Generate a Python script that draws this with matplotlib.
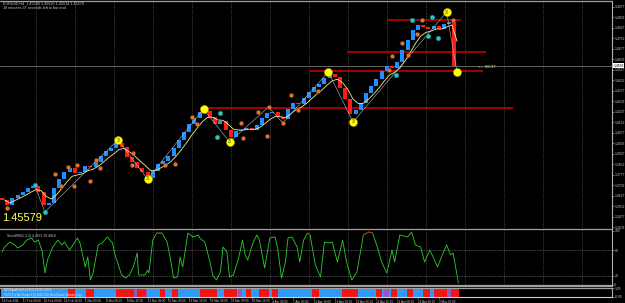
import matplotlib
matplotlib.use("Agg")
import matplotlib.pyplot as plt
import numpy as np
import pandas as pd

plt.rcParams['font.family'] = ['Liberation Sans', 'DejaVu Sans']

# ---------------- data ----------------
# EURUSD H4 closes, one value every 4 bars (bar 0 = 14 Feb 2011 16:00)
step = 4
close = [1.3596, 1.3560, 1.3610, 1.3631, 1.3653, 1.3681, 1.3696, 1.3653, 1.3560, 1.3574,
         1.3681, 1.3746, 1.3796, 1.3825, 1.3789, 1.3796, 1.3839, 1.3832, 1.3868, 1.3910,
         1.3946, 1.3968, 1.4004, 1.3975, 1.3903, 1.3868, 1.3825, 1.3796, 1.3753, 1.3803,
         1.3853, 1.3875, 1.3910, 1.3968, 1.4025, 1.4082, 1.4140, 1.4182, 1.4225, 1.4233,
         1.4190, 1.4140, 1.4161, 1.4097, 1.4047, 1.4089, 1.4097, 1.4111, 1.4097, 1.4132,
         1.4182, 1.4218, 1.4225, 1.4190, 1.4175, 1.4247, 1.4290, 1.4283, 1.4326, 1.4369,
         1.4404, 1.4426, 1.4469, 1.4497, 1.4476, 1.4397, 1.4318, 1.4211, 1.4240, 1.4290,
         1.4361, 1.4412, 1.4462, 1.4519, 1.4555, 1.4540, 1.4583, 1.4669, 1.4741, 1.4812,
         1.4848, 1.4834, 1.4819, 1.4841, 1.4819, 1.4855, 1.4870, 1.45579]
first_open = 1.3610
last_price = 1.45579

# swing markers (bar index, price)
yellow_bar = [89, 112, 155, 175, 251, 270, 342, 350]
yellow_px = [1.4025, 1.3746, 1.4247, 1.4011, 1.4512, 1.4154, 1.4941, 1.4512]
yellow_txt = ['3', '3', '', '3', '', '3', '3', '']

cyan_bar = [25, 33, 165, 168, 303, 315, 328, 331, 335]
cyan_px = [1.3703, 1.3510, 1.4047, 1.4218, 1.4490, 1.4884, 1.4769, 1.4905, 1.4755]

orange_bar = [4, 41, 45, 51, 55, 58, 68, 72, 75, 100, 101, 125, 133, 146, 150, 184, 185,
              197, 204, 205, 216, 222, 228, 243, 298, 300, 308, 312, 319, 323, 347]
orange_px = [1.3538, 1.3782, 1.3696, 1.3832, 1.3696, 1.3846, 1.3732, 1.3882, 1.3825,
             1.3846, 1.3932, 1.3846, 1.3853, 1.4190, 1.4140, 1.4147, 1.4039, 1.4225,
             1.4054, 1.4261, 1.4147, 1.4347, 1.4240, 1.4376, 1.4526, 1.4626, 1.4719,
             1.4633, 1.4784, 1.4884, 1.4884]

zz_bar = [25, 33, 89, 112, 155, 175, 205, 216, 251, 270, 342, 350]
zz_px = [1.3703, 1.3510, 1.4025, 1.3746, 1.4247, 1.4011, 1.4261, 1.4147, 1.4512, 1.4154,
         1.4941, 1.4512]

# red support / resistance levels
lvl_px = [1.4884, 1.4655, 1.4519, 1.4254]
lvl_from = [296, 265, 237, 152]
lvl_to = [353, 372, 370, 393]

# oscillator (lower window)
osc_bar = [0, 2, 6, 10, 12, 16, 19, 23, 25, 28, 31, 33, 35, 39, 43, 46, 48, 52, 58, 60,
           64, 66, 68, 70, 74, 77, 81, 85, 87, 89, 92, 95, 98, 101, 104, 105, 108, 110,
           112, 113, 116, 119, 123, 127, 129, 132, 135, 137, 139, 143, 147, 151, 152, 156,
           160, 162, 165, 168, 170, 173, 175, 178, 182, 185, 187, 189, 193, 196, 198, 202,
           206, 210, 212, 215, 218, 220, 223, 227, 229, 232, 235, 237, 241, 245, 248, 251,
           254, 258, 262, 265, 269, 273, 278, 282, 285, 289, 292, 296, 300, 302, 306, 312,
           315, 318, 322, 325, 329, 332, 335, 338, 342, 345, 347, 350, 351]
osc_val = [75.4, 86.9, 98.5, 91.5, 84.6, 91.5, 103.1, 107.7, 98.5, 103.1, 75.4, 26.9, 56.9,
           86.9, 103.1, 91.5, 98.5, 80.0, 107.7, 96.2, 40.8, 63.8, 10.8, 26.9, 91.5, 96.2,
           110.0, 96.2, 68.5, 50.0, 22.3, 15.4, 22.3, 40.8, 73.1, 22.3, 22.3, 22.3, 33.8,
           26.9, 103.1, 119.2, 119.2, 98.5, 68.5, 15.4, 17.7, 63.8, 40.8, 119.2, 110.0,
           114.6, 107.7, 98.5, 52.3, 22.3, 10.8, 29.2, 86.9, 75.4, 17.7, 22.3, 61.5, 103.1,
           68.5, 56.9, 96.2, 114.6, 103.1, 38.5, 107.7, 110.0, 84.6, 15.4, 52.3, 107.7,
           110.0, 86.9, 52.3, 103.1, 119.2, 114.6, 45.4, 17.7, 98.5, 96.2, 98.5, 52.3, 103.1,
           52.3, 10.8, 29.2, 114.6, 121.5, 119.2, 84.6, 52.3, 26.9, 80.0, 52.3, 114.6, 110.0,
           121.5, 91.5, 86.9, 52.3, 80.0, 61.5, 40.8, 63.8, 91.5, 68.5, 73.1, 22.3, 3.8]

# signal strip: runs of red / mixed bars, the rest blue
red_from = [51, 65, 88, 104, 122, 131, 153, 171, 188, 198, 208, 239, 262, 288, 300, 312, 324, 333, 346]
red_to = [56, 70, 101, 110, 125, 135, 165, 180, 191, 205, 212, 243, 273, 292, 303, 316, 329, 342, 351]
mix_from = [102, 111, 182, 294, 343]
mix_to = [103, 111, 184, 297, 345]
n_bars = 352

price_ticks = [round(1.4977 - 0.0075 * k, 4) for k in range(22)]
time_labels = ['14 Feb 2011', '17 Feb 08:00', '22 Feb 00:00', '24 Feb 16:00', '1 Mar 08:00',
               '4 Mar 00:00', '8 Mar 16:00', '11 Mar 08:00', '16 Mar 00:00', '18 Mar 16:00',
               '23 Mar 08:00', '28 Mar 00:00', '30 Mar 16:00', '4 Apr 08:00', '7 Apr 00:00',
               '11 Apr 16:00', '14 Apr 08:00', '19 Apr 00:00', '21 Apr 16:00', '26 Apr 08:00',
               '29 Apr 00:00', '3 May 16:00']

# ---------------- layout ----------------
W, H = 625, 303
fig = plt.figure(figsize=(W / 100, H / 100), dpi=100, facecolor='black')


def box(top, bottom):
    return [0, 1 - bottom / H, 612 / W, (bottom - top) / H]


ax = fig.add_axes(box(1, 228))
ax_osc = fig.add_axes(box(229, 286))
ax_sig = fig.add_axes(box(288, 297))

axis_col = '#C8C8C8'
for a in (ax, ax_osc, ax_sig):
    a.set_facecolor('black')
    a.set_xlim(-1.54, 469.2)
    for s in a.spines.values():
        s.set_visible(False)
    a.spines['right'].set_visible(True)
    a.spines['right'].set_color('#B0B0B0')
    a.spines['right'].set_linewidth(0.8)
    a.spines['top'].set_visible(True)
    a.spines['top'].set_color('#A0A0A0')
    a.spines['top'].set_linewidth(0.9)
    a.yaxis.tick_right()
    a.tick_params(axis='y', colors=axis_col, labelsize=2.4, length=1.2, width=0.4, pad=0.5)
    a.tick_params(axis='x', colors=axis_col, labelsize=2.2, length=0, pad=1)

ax.set_ylim(1.33952, 1.50198)
ax_osc.set_ylim(-3.1, 128.5)
ax_sig.set_ylim(-0.05, 1.05)
ax.set_xticks([])
ax_osc.set_xticks([])
ax_osc.spines['bottom'].set_visible(True)
ax_osc.spines['bottom'].set_color('#A0A0A0')
ax_osc.spines['bottom'].set_linewidth(1.6)
ax_sig.spines['bottom'].set_visible(True)
ax_sig.spines['bottom'].set_color('#D0D0D0')
ax_sig.spines['bottom'].set_linewidth(0.8)

# weekly dotted grid
for a in (ax, ax_osc):
    for g in range(26, 470, 30):
        a.axvline(g, color='#6A6A6A', linestyle=(0, (1, 1.5)), linewidth=0.5, zorder=0)

# ---------------- main window ----------------
ax.set_yticks(price_ticks)
ax.set_yticklabels(['%.4f' % t for t in price_ticks])

ax.axhline(last_price, color='#8C8C8C', linewidth=0.5, zorder=1)
for p, b0, b1 in zip(lvl_px, lvl_from, lvl_to):
    ax.hlines(p, b0, b1, color='#D00000', linewidth=1.1, zorder=1)

bars = np.arange(len(close)) * step
opens = [first_open] + close[:-1]
body = np.subtract(close, opens)
cols = ['#1E8FFF' if d >= 0 else '#FF1A1A' for d in body]
ax.bar(bars, body, bottom=opens, width=3.0, color=cols, linewidth=0, zorder=2)

ma = pd.Series(close).ewm(span=4).mean()
ax.plot(bars + 2, ma, color='#F3F08A', linewidth=0.6, zorder=3)
ax.plot(zz_bar, zz_px, color='#B8B8B8', linewidth=0.4, zorder=3)

ax.scatter(orange_bar, orange_px, s=9, color='#E0742E', edgecolors='#7A3A10', linewidths=0.3, zorder=4)
ax.scatter(cyan_bar, cyan_px, s=12, color='#2EC4C4', edgecolors='#106060', linewidths=0.3, zorder=4)
ax.scatter(yellow_bar, yellow_px, s=34, color='#FFFF00', edgecolors='#A0A000', linewidths=0.3, zorder=5)
for b, p, t in zip(yellow_bar, yellow_px, yellow_txt):
    if t:
        ax.text(b, p, t, color='#303000', fontsize=3.6, ha='center', va='center', zorder=6)

ax.text(366, last_price - 0.0009, '<-- 68:37', color='#E6E6A0', fontsize=3.2, va='center')
ax.text(0.004, 0.02, '%.5f' % last_price, transform=ax.transAxes, color='#FFFF55',
        fontsize=8, ha='left', va='bottom')

fig.text(3 / W, 1 - 4 / H, 'EURUSD,H4  1.45590 1.45620 1.45534 1.45579', color=axis_col,
         fontsize=2.7, va='center')
fig.text(3 / W, 1 - 8 / H, '18 minutes 37 seconds left to bar end', color=axis_col,
         fontsize=2.7, va='center')

# current price tag on the scale
ax.text(1.002, last_price, '%.4f' % last_price, transform=ax.get_yaxis_transform(),
        fontsize=2.4, color='black', va='center', ha='left',
        bbox=dict(boxstyle='square,pad=0.15', facecolor='white', edgecolor='none'))

# ---------------- oscillator window ----------------
osc = np.array(osc_val)
ax_osc.plot(osc_bar, osc, color='#2BD12B', linewidth=0.6, zorder=2)
hot = np.where((osc > 112) | (osc < 16), osc, np.nan)
ax_osc.plot(osc_bar, hot, color='#C01818', linewidth=0.6, zorder=3)
for lv in (80, 20):
    ax_osc.axhline(lv, color='#909090', linestyle=(0, (1, 1.5)), linewidth=0.5, zorder=1)
ax_osc.set_yticks([124, 80, 20, 0])
ax_osc.set_yticklabels(['100', '80', '20', '0'])
ax_osc.text(0.012, 0.88, 'StochRSI(5,3,3) 4.4979 19.4818', transform=ax_osc.transAxes,
            color=axis_col, fontsize=2.4, va='center')

# ---------------- signal strip ----------------
strip_col = ['#2E9BF7'] * n_bars
for a0, a1 in zip(red_from, red_to):
    for b in range(a0, a1 + 1):
        strip_col[b] = '#F01414'
for a0, a1 in zip(mix_from, mix_to):
    for b in range(a0, a1 + 1):
        strip_col[b] = '#8A5AC8'
ax_sig.bar(np.arange(n_bars), [1.1] * n_bars, bottom=-0.05, width=1.0, color=strip_col,
           linewidth=0, zorder=1)
ax_sig.set_yticks([1.05, -0.05])
ax_sig.set_yticklabels(['1.05', '-0.05'])
ax_sig.text(0.006, 0.80, 'NZDSignalLine(4,1.0000) 1.0000 1.0000', transform=ax_sig.transAxes,
            color='#E8E8E8', fontsize=1.9, va='center', zorder=3)
ax_sig.text(0.006, 0.24, 'FXCO Pro Mini Trader 4 (c) 2005-2011 MetaQuotes Software Corp.',
            transform=ax_sig.transAxes, color='#E8E8E8', fontsize=1.9, va='center', zorder=3)

ax_sig.set_xticks([16 * k for k in range(len(time_labels))])
ax_sig.set_xticklabels(time_labels)
for lbl in ax_sig.get_xticklabels():
    lbl.set_ha('left')
ax_sig.tick_params(axis='x', length=1.2, width=0.4, color='#A0A0A0', pad=0.6)

fig.savefig('out.png', dpi=100, facecolor='black')
